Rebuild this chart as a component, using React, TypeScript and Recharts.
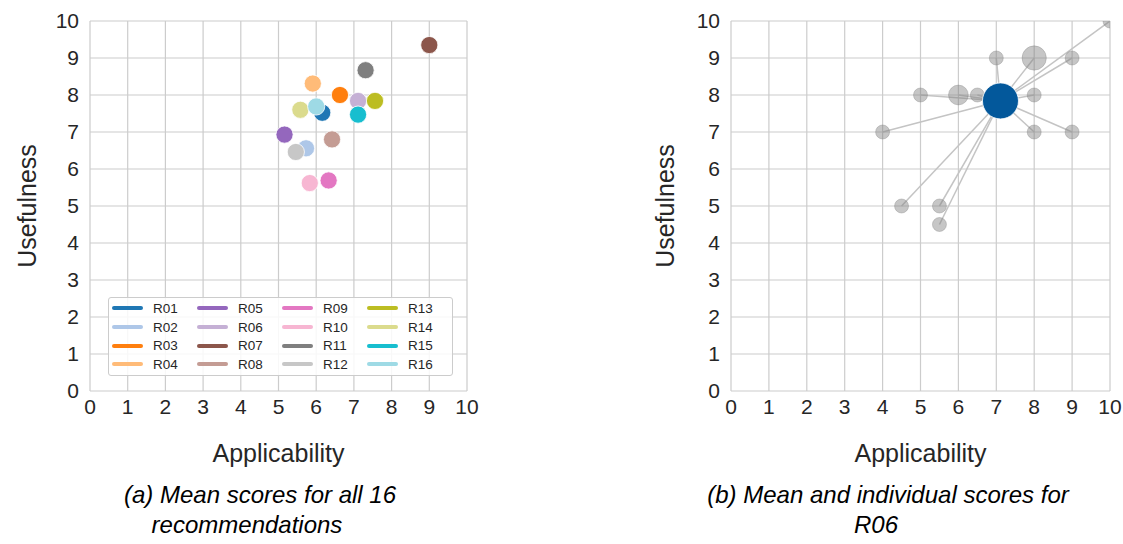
import {
  ScatterChart, Scatter, XAxis, YAxis, ZAxis, CartesianGrid,
  Legend, Label, ReferenceLine,
} from 'recharts'

const TICKS = [0, 1, 2, 3, 4, 5, 6, 7, 8, 9, 10]

// (a) mean scores per recommendation
const REC_IDS = ['R01', 'R02', 'R03', 'R04', 'R05', 'R06', 'R07', 'R08',
  'R09', 'R10', 'R11', 'R12', 'R13', 'R14', 'R15', 'R16']
const MEAN_APPLICABILITY = [6.16, 5.73, 6.63, 5.91, 5.16, 7.11, 9.0, 6.42,
  6.33, 5.83, 7.31, 5.46, 7.56, 5.58, 7.11, 6.0]
const MEAN_USEFULNESS = [7.52, 6.56, 8.0, 8.31, 6.93, 7.84, 9.35, 6.8,
  5.69, 5.62, 8.67, 6.46, 7.84, 7.6, 7.47, 7.69]
const REC_COLORS = ['#1f77b4', '#aec7e8', '#ff7f0e', '#ffbb78', '#9467bd', '#c5b0d5',
  '#8c564b', '#c49c94', '#e377c2', '#f7b6d2', '#7f7f7f', '#c7c7c7',
  '#bcbd22', '#dbdb8d', '#17becf', '#9edae5']

// (b) individual scores for R06 (n = number of respondents at that spot)
const R06_APPLICABILITY = [4, 4.5, 5, 5.5, 5.5, 6, 6.5, 7, 8, 8, 8, 9, 9, 10]
const R06_USEFULNESS = [7, 5, 8, 5, 4.5, 8, 8, 9, 9, 8, 7, 9, 7, 10]
const R06_COUNT = [1, 1, 1, 1, 1, 2, 1, 1, 3, 1, 1, 1, 1, 1]
const R06_MEAN = { x: MEAN_APPLICABILITY[5], y: MEAN_USEFULNESS[5] }

const INK = '#262626'
const GRID = '#cccccc'
const FONT = '"Liberation Sans", Arial, sans-serif'

const recPoints = REC_IDS.map((id, i) => ({
  id, x: MEAN_APPLICABILITY[i], y: MEAN_USEFULNESS[i], color: REC_COLORS[i],
}))

const r06Points = R06_APPLICABILITY.map((x, i) => ({
  x, y: R06_USEFULNESS[i], n: R06_COUNT[i],
}))

// eslint-disable-next-line @typescript-eslint/no-explicit-any
const dot = (r: number) => (props: any) => (
  <circle
    cx={props.cx} cy={props.cy} r={r}
    fill={props.fill} stroke={props.stroke} strokeWidth={props.strokeWidth}
  />
)

function RecLegend() {
  // column-major, 4 rows
  const cols = [0, 1, 2, 3].map((c) => recPoints.slice(c * 4, c * 4 + 4))
  return (
    <div
      style={{
        width: 345, height: 79, boxSizing: 'border-box',
        border: `1px solid ${GRID}`, borderRadius: 3,
        background: 'rgba(255,255,255,0.85)',
        display: 'flex', padding: '1px 0 0 3px',
      }}
    >
      {cols.map((col, ci) => (
        <div key={ci} style={{ width: 90.5 }}>
          {col.map((p) => (
            <div key={p.id} style={{ display: 'flex', alignItems: 'center', height: 18.7 }}>
              <span
                style={{
                  display: 'inline-block', width: 31, height: 4, borderRadius: 2,
                  background: p.color, marginRight: 10,
                }}
              />
              <span style={{ fontSize: 13.5, color: INK, lineHeight: '13px' }}>{p.id}</span>
            </div>
          ))}
        </div>
      ))}
    </div>
  )
}

const tickStyle = { fill: INK, fontSize: 21, fontFamily: FONT }

function axes(yWidth: number, titleOffset: number, overflow: boolean) {
  return [
    <CartesianGrid key="g" stroke={GRID} strokeWidth={1.2} />,
    <XAxis
      key="x" type="number" dataKey="x" domain={[0, 10]} ticks={TICKS}
      allowDataOverflow={overflow} interval={0}
      axisLine={false} tickLine={false} tickSize={6} tickMargin={2}
      tick={tickStyle} height={79}
    >
      <Label value="Applicability" position="insideBottom" offset={8}
        fill={INK} fontSize={25} fontFamily={FONT} />
    </XAxis>,
    <YAxis
      key="y" type="number" dataKey="y" domain={[0, 10]} ticks={TICKS}
      allowDataOverflow={overflow} interval={0}
      axisLine={false} tickLine={false} tickSize={9} tickMargin={2}
      tick={tickStyle} width={yWidth}
    >
      <Label value="Usefulness" angle={-90} position="insideLeft" offset={titleOffset}
        fill={INK} fontSize={25} fontFamily={FONT} style={{ textAnchor: 'middle' }} />
    </YAxis>,
  ]
}

function Caption({ text, cx, top }: { text: string; cx: number; top: number }) {
  return (
    <div
      style={{
        position: 'absolute', left: cx - 250, top, width: 500, textAlign: 'center',
        fontSize: 24, lineHeight: '30px', fontStyle: 'italic', color: '#000',
        fontFamily: FONT, whiteSpace: 'nowrap',
      }}
    >
      {text}
    </div>
  )
}

export default function App() {
  return (
    <div
      style={{
        position: 'absolute', left: 0, top: 0, width: 1123, height: 544,
        background: '#fff', fontFamily: FONT, overflow: 'hidden',
      }}
    >
      <div style={{ position: 'absolute', left: 0, top: 0 }}>
        <ScatterChart width={480} height={470} margin={{ top: 21, right: 13, bottom: 0, left: 0 }}>
          {axes(90, 27, false)}
          {recPoints.map((p) => (
            <Scatter
              key={p.id} name={p.id} data={[p]} fill={p.color}
              stroke="#ffffff" strokeWidth={0.8} shape={dot(8.6)}
              isAnimationActive={false}
            />
          ))}
          <Legend
            layout="horizontal" verticalAlign="middle" align="center"
            wrapperStyle={{ left: 108, top: 297, width: 345, height: 79 }}
            content={() => <RecLegend />}
          />
        </ScatterChart>
      </div>

      <div style={{ position: 'absolute', left: 640, top: 0 }}>
        <ScatterChart width={483} height={470} margin={{ top: 21, right: 13, bottom: 0, left: 0 }}>
          {axes(91, 25, true)}
          <ZAxis type="number" dataKey="n" domain={[1, 3]} range={[154, 462]} />
          {r06Points.map((p, i) => (
            <ReferenceLine
              key={i} segment={[R06_MEAN, { x: p.x, y: p.y }]}
              stroke="#c4c4c4" strokeWidth={1.5} ifOverflow="hidden"
            />
          ))}
          <Scatter
            name="R06 individual" data={r06Points} fill="#808080" fillOpacity={0.45}
            stroke="#808080" strokeOpacity={0.35} strokeWidth={1} isAnimationActive={false}
          />
          <Scatter
            name="R06 mean" data={[R06_MEAN]} fill="#03589b"
            stroke="#ffffff" strokeWidth={0.8} shape={dot(18)}
            isAnimationActive={false}
          />
        </ScatterChart>
      </div>

      <Caption text="(a) Mean scores for all 16" cx={260} top={480} />
      <Caption text="recommendations" cx={247} top={510} />
      <Caption text="(b) Mean and individual scores for" cx={888} top={480} />
      <Caption text="R06" cx={876} top={510} />
    </div>
  )
}
